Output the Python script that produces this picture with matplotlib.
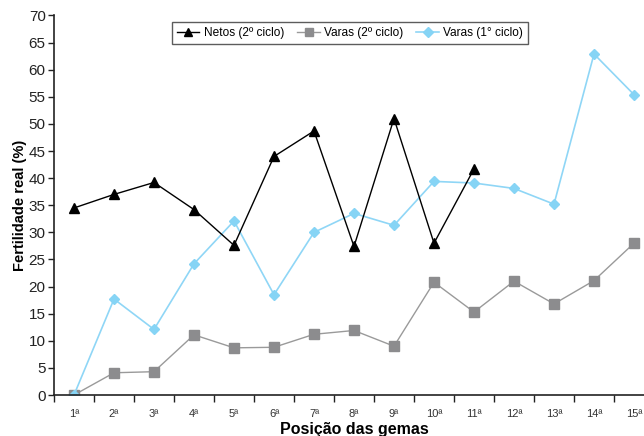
import matplotlib
matplotlib.use("Agg")
import matplotlib.pyplot as plt
from matplotlib.ticker import FixedLocator
import numpy as np

plt.rcParams['font.family'] = ['Liberation Sans', 'DejaVu Sans']

positions = ["1ª", "2ª", "3ª", "4ª", "5ª", "6ª", "7ª", "8ª", "9ª", "10ª",
             "11ª", "12ª", "13ª", "14ª", "15ª"]
netos_2 = [34.5, 37.0, 39.2, 34.2, 27.6, 44.0, 48.7, 27.4, 51.0, 28.0, 41.7]
varas_2 = [0.0, 4.1, 4.3, 11.1, 8.7, 8.8, 11.2, 11.9, 9.0, 20.8, 15.3, 21.0,
           16.8, 21.1, 28.0]
varas_1 = [0.0, 17.7, 12.1, 24.2, 32.1, 18.5, 30.0, 33.5, 31.3, 39.4, 39.1,
           38.1, 35.2, 62.9, 55.4]

W, H = 644, 436
fig = plt.figure(figsize=(W / 100, H / 100), dpi=100)
# axes box in pixels: left 54, right 654 (runs past the image edge), top 15.5, bottom 395
ax = fig.add_axes([54 / W, (H - 395) / H, 600 / W, (395 - 15.5) / H])

x = np.arange(1, len(positions) + 1)
ax.plot(x[:len(netos_2)], netos_2, color='black', lw=1.0, marker='^',
        ms=7, label='Netos (2º ciclo)', zorder=3)
ax.plot(x, varas_2, color='#9a9a9a', lw=1.0, marker='s', ms=7,
        mfc='#8c8c8e', mec='#8c8c8e', label='Varas (2º ciclo)', zorder=2)
ax.plot(x, varas_1, color='#8fd6f6', lw=1.2, marker='D', ms=5.5,
        mfc='#86d4f5', mec='#86d4f5', label='Varas (1° ciclo)', zorder=2)

ax.set_xlim(0.5, len(positions) + 0.5)
ax.set_ylim(0, 70)
ax.set_yticks(np.arange(0, 71, 5))
ax.set_xticks(x)
ax.set_xticklabels(positions, fontsize=8, color='#333333')
ax.xaxis.set_minor_locator(FixedLocator(np.arange(0.5, len(positions) + 1, 1)))
ax.tick_params(axis='x', which='major', length=0, pad=10)
ax.tick_params(axis='x', which='minor', length=5, width=1, direction='out',
               color='#222222')
ax.tick_params(axis='y', length=4, width=1, direction='out', labelsize=11,
               color='#222222', labelcolor='#222222', pad=2)

for s in ('top', 'right'):
    ax.spines[s].set_visible(False)
for s in ('left', 'bottom'):
    ax.spines[s].set_linewidth(1.2)
    ax.spines[s].set_color('#222222')

ax.set_ylabel('Fertilidade real (%)', fontsize=10.5, fontweight='bold',
              labelpad=1)
ax.set_xlabel('Posição das gemas', fontsize=11.5, fontweight='bold',
              labelpad=2)

leg = ax.legend(loc='upper center', bbox_to_anchor=(0.4933, 0.983),
                borderaxespad=0, ncol=3, frameon=True, fancybox=False,
                fontsize=8.6, handlelength=1.9, handletextpad=0.35,
                columnspacing=1.1, borderpad=0.4, edgecolor='#333333',
                markerscale=0.85)
leg.get_frame().set_linewidth(1.0)

fig.savefig('out.png', dpi=100)
